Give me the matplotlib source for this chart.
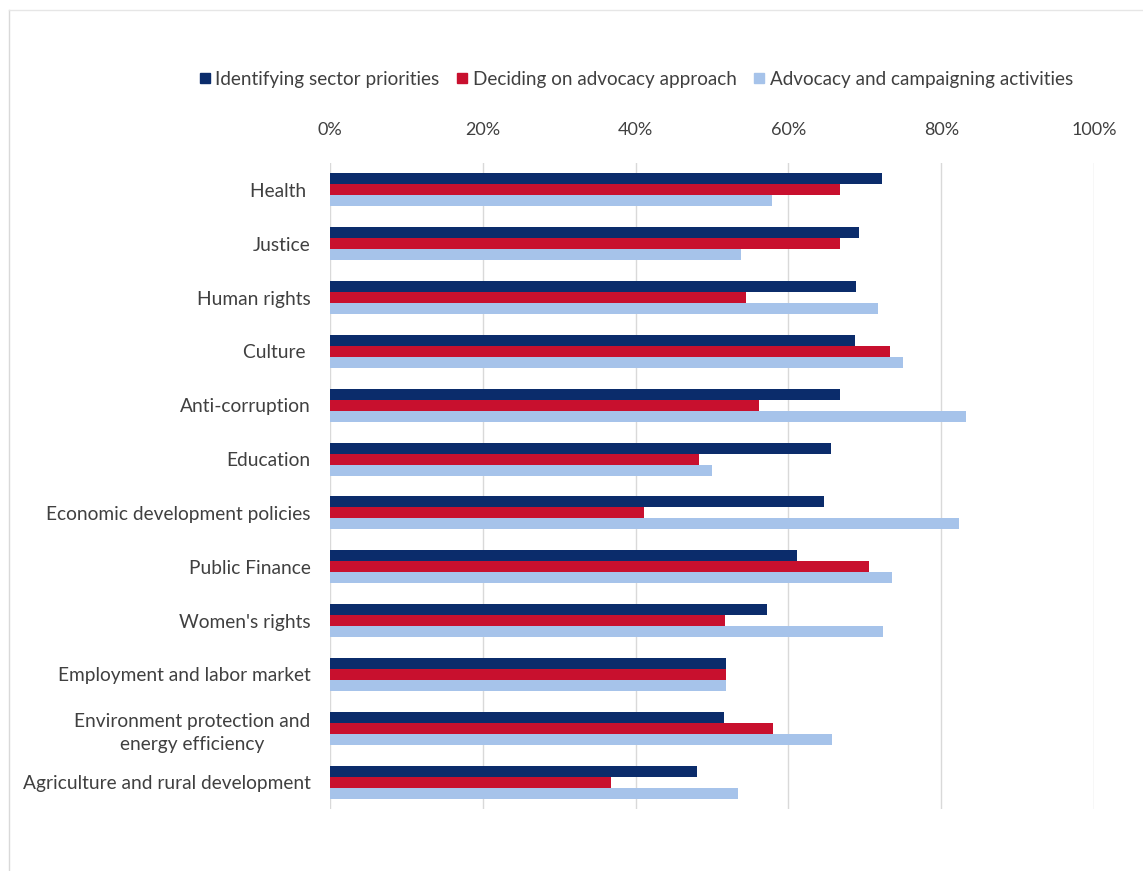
import numpy as np
import matplotlib.pyplot as plt
from matplotlib.lines import Line2D

plt.rcParams['font.family'] = ['Lato', 'DejaVu Sans']

# sectors, top to bottom
sectors = [
    'Health ',
    'Justice',
    'Human rights',
    'Culture ',
    'Anti-corruption',
    'Education',
    'Economic development policies',
    'Public Finance',
    "Women's rights",
    'Employment and labor market',
    'Environment protection and\nenergy efficiency',
    'Agriculture and rural development',
]

# share of respondents (%)
identifying = [72.2, 69.2, 68.8, 68.7, 66.7, 65.6, 64.6, 61.1, 57.2, 51.8, 51.6, 48.0]
deciding = [66.7, 66.7, 54.4, 73.3, 56.2, 48.3, 41.1, 70.6, 51.7, 51.8, 58.0, 36.8]
activities = [57.8, 53.8, 71.7, 75.0, 83.3, 50.0, 82.3, 73.6, 72.4, 51.8, 65.7, 53.4]

series_names = ['Identifying sector priorities',
                'Deciding on advocacy approach',
                'Advocacy and campaigning activities']
colors = ['#0b2c6b', '#c8102e', '#a6c3ea']
xticks = [0, 20, 40, 60, 80, 100]

W, H = 1143, 871
fig = plt.figure(figsize=(W / 100, H / 100), dpi=100)
ax = fig.add_axes([330 / W, 1 - 809 / H, (1094 - 330) / W, (809 - 163) / H])

text_color = '#404040'
y = np.arange(len(sectors))
h = 0.205
for k, (vals, c) in enumerate(zip([identifying, deciding, activities], colors)):
    ax.barh(y + (k - 1) * h, vals, height=h, color=c, zorder=3)

ax.set_xlim(0, 100)
ax.set_ylim(len(sectors) - 0.5, -0.5)
ax.set_xticks(xticks)
ax.set_xticklabels([f'{t}%' for t in xticks])
ax.xaxis.tick_top()
ax.tick_params(axis='x', length=0, pad=18, labelsize=13, labelcolor=text_color)
ax.set_yticks(y)
ax.set_yticklabels(sectors)
ax.tick_params(axis='y', length=0, pad=14, labelsize=13.8, labelcolor=text_color)
for lbl in ax.get_yticklabels():
    lbl.set_multialignment('center')
    lbl.set_linespacing(1.45)
ax.grid(axis='x', color='#d9d9d9', linewidth=1, zorder=0)
for s in ax.spines.values():
    s.set_visible(False)

handles = [Line2D([], [], marker='s', linestyle='none', markersize=7,
                  markerfacecolor=c, markeredgecolor=c) for c in colors]
fig.legend(handles, series_names, loc='center', bbox_to_anchor=(636 / W, 1 - 79 / H),
           ncol=3, frameon=False, fontsize=13.6, handlelength=0.6, handletextpad=0.25,
           columnspacing=0.9, labelcolor=text_color)

# faint outer frame on top and left
fig.add_artist(Line2D([9 / W, 9 / W], [0, 1 - 10 / H], color='#d9d9d9', linewidth=1))
fig.add_artist(Line2D([9 / W, 1], [1 - 10 / H, 1 - 10 / H], color='#e6e6e6', linewidth=1))

fig.savefig('out.png', dpi=100, facecolor='white')
